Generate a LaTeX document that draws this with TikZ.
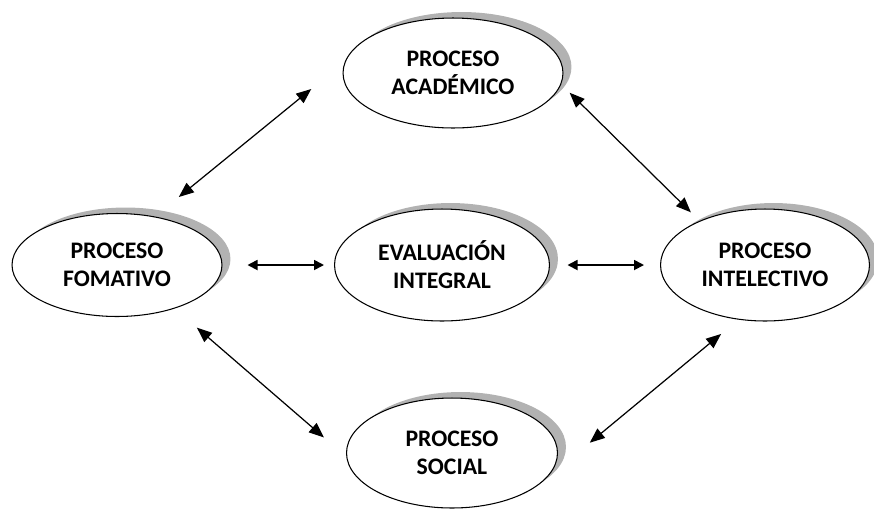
\documentclass[tikz,border=0pt]{standalone}
\usepackage{fontspec}
\setmainfont{Carlito}
\usetikzlibrary{shapes.geometric,arrows.meta,shadows}
\begin{document}
\begin{tikzpicture}[x=0.02cm,y=-0.02cm,
  proc/.style={ellipse,draw,line width=0.6pt,fill=white,align=center,inner sep=0pt,
    font=\fontsize{13.5}{16}\selectfont\bfseries,
    drop shadow={shadow xshift=0.17cm,shadow yshift=0.12cm,fill=black!30,opacity=1}},
  link/.style={{Triangle[length=0.3cm,width=0.24cm]}-{Triangle[length=0.3cm,width=0.24cm]},line width=0.7pt},
  slink/.style={{Triangle[length=0.2cm,width=0.2cm]}-{Triangle[length=0.2cm,width=0.2cm]},line width=1pt}]
    \useasboundingbox (0,0) rectangle (874,508);
    \node[proc,minimum width=4.4cm,minimum height=2.2cm] (aca) at (453,73) {PROCESO\\ACADÉMICO};
    \node[proc,minimum width=4.2cm,minimum height=2.06cm] (fom) at (117,265) {PROCESO\\FOMATIVO};
    \node[proc,minimum width=4.3cm,minimum height=2.24cm] (eva) at (442,265) {EVALUACIÓN\\INTEGRAL};
    \node[proc,minimum width=4.18cm,minimum height=2.24cm] (int) at (765,265) {PROCESO\\INTELECTIVO};
    \node[proc,minimum width=4.22cm,minimum height=2.2cm] (soc) at (452,453) {PROCESO\\SOCIAL};
    \draw[link,shorten <=0.616cm,shorten >=0.866cm] (fom.52) -- (aca.174);
    \draw[link,shorten <=0.238cm,shorten >=0.242cm] (aca.354) -- (int.146);
    \draw[slink,shorten <=0.5cm,shorten >=0.2cm] (fom.east) -- (eva.west);
    \draw[slink,shorten <=0.35cm,shorten >=0.32cm] (eva.east) -- (int.west);
    \draw[link,shorten <=0.586cm,shorten >=0.59cm] (fom.323) -- (soc.182);
    \draw[link,shorten <=1.2cm,shorten >=0.448cm] (soc.343) -- (int.244);
\end{tikzpicture}
\end{document}
